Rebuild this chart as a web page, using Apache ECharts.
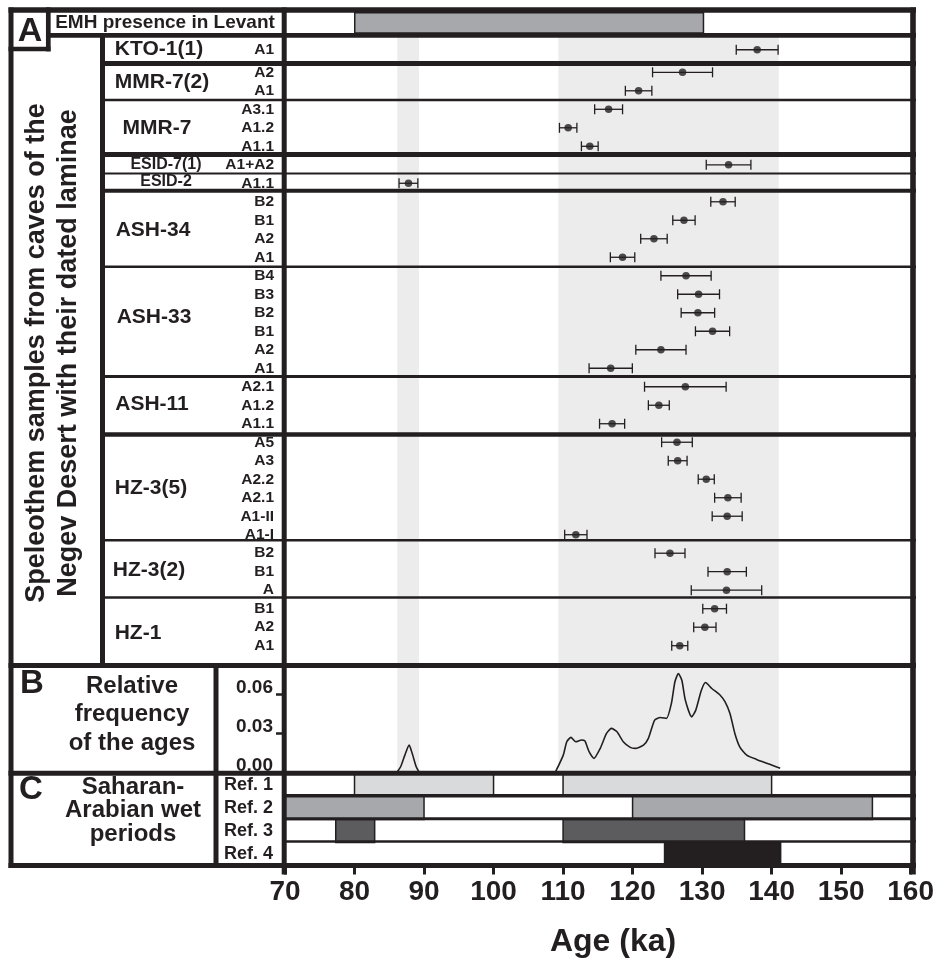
<!DOCTYPE html>
<html><head><meta charset="utf-8">
<script src="https://cdn.jsdelivr.net/npm/echarts@6/dist/echarts.min.js"></script>
<style>html,body{margin:0;padding:0;background:#fff}#c{width:937px;height:959px}</style>
</head><body><div id="c"></div>
<script>
// ================= DATA =================
const groupNames = ['KTO-1(1)','MMR-7(2)','MMR-7','ESID-7(1)','ESID-2','ASH-34','ASH-33','ASH-11','HZ-3(5)','HZ-3(2)','HZ-1'];

const ktoLaminae = ['A1'];
const ktoAges    = [137.7];
const ktoErrors  = [3.0];

const laminaGroups = ['MMR-7(2)','MMR-7(2)','MMR-7','MMR-7','MMR-7','ESID-7(1)','ESID-2',
  'ASH-34','ASH-34','ASH-34','ASH-34',
  'ASH-33','ASH-33','ASH-33','ASH-33','ASH-33','ASH-33',
  'ASH-11','ASH-11','ASH-11',
  'HZ-3(5)','HZ-3(5)','HZ-3(5)','HZ-3(5)','HZ-3(5)','HZ-3(5)',
  'HZ-3(2)','HZ-3(2)','HZ-3(2)',
  'HZ-1','HZ-1','HZ-1'];
const laminaLabels = ['A2','A1','A3.1','A1.2','A1.1','A1+A2','A1.1',
  'B2','B1','A2','A1',
  'B4','B3','B2','B1','A2','A1',
  'A2.1','A1.2','A1.1',
  'A5','A3','A2.2','A2.1','A1-II','A1-I',
  'B2','B1','A',
  'B1','A2','A1'];
const laminaAges = [127.0,120.7,116.4,110.6,113.7,133.6,87.7,
  132.8,127.2,122.9,118.4,
  127.5,129.3,129.2,131.3,123.9,116.7,
  127.4,123.6,116.9,
  126.2,126.3,130.4,133.5,133.4,111.7,
  125.2,133.4,133.3,
  131.6,130.2,126.6];
const laminaErrors = [4.3,1.9,2.0,1.25,1.2,3.2,1.35,
  1.75,1.6,1.9,1.75,
  3.6,3.0,2.4,2.45,3.6,3.1,
  5.85,1.5,1.8,
  2.2,1.35,1.15,1.9,2.15,1.6,
  2.15,2.75,5.05,
  1.7,1.6,1.15];

const emhRange = [80, 130];
const bandRanges = [[86.1, 89.2], [109.2, 140.8]];

// relative frequency of ages (panel B)
const freqPeak1Ages = [86.1, 86.6, 87.2, 87.8, 88.3, 88.8, 89.2];
const freqPeak1Vals = [0.000, 0.004, 0.013, 0.0205, 0.013, 0.004, 0.000];
const freqMainAges = [108.8,109.9,110.4,111.0,111.7,112.5,113.0,113.6,114.3,115.2,116.1,116.8,117.6,118.5,119.5,120.2,121.4,122.1,123.0,123.8,124.7,125.4,125.9,126.4,126.9,127.4,128.3,128.9,129.7,130.3,131.2,132.4,133.1,133.8,134.5,135.2,136.2,137.6,139.5,141.0];
const freqMainVals = [0.000,0.0128,0.0231,0.0265,0.0231,0.0244,0.0238,0.0154,0.0103,0.0180,0.0295,0.0334,0.0308,0.0231,0.0188,0.0180,0.0205,0.0257,0.0398,0.0418,0.0411,0.0526,0.0692,0.0757,0.0705,0.0552,0.0423,0.0475,0.0628,0.0688,0.0642,0.0590,0.0538,0.0449,0.0295,0.0192,0.0128,0.0095,0.0057,0.0026];
const freqTicks = [0, 0.03, 0.06];

const refLabels = ['Ref. 1','Ref. 2','Ref. 3','Ref. 4'];
const refPeriods = [
  [[80,100],[110,140]],
  [[70,90],[120,154.5]],
  [[77.3,82.9],[110,136.1]],
  [[124.6,141.3]]
];
const ageTicks = [70,80,90,100,110,120,130,140,150,160];

// ================= STYLE / LAYOUT =================
const FONT = '"Liberation Sans", Arial, Helvetica, sans-serif';
const INK = '#231f20';
const refColors = ['#d9dadb','#a7a8ab','#5c5c5e','#231f20'];
const PLOT_LEFT = 285, PLOT_RIGHT = 937 - 912.7;

function grid(top, height){ return {left: PLOT_LEFT, right: PLOT_RIGHT, top: top, height: height}; }
const grids = [grid(37,734), grid(12.7,20.3), grid(38,23.5), grid(63.05,591.9), grid(668,103.7), grid(773.3,92.2)];

const hLines = [ // y, x1, x2, width
  [10,8.5,916,5.3],[35.3,46,916,4.7],[49,8.5,50.5,4.7],
  [63.5,100,916,5],[100,100,916,2.5],[154.5,100,916,5],[173.5,100,916,2.2],
  [190.7,100,916,4],[266.7,100,916,2.5],[376.5,100,916,2.8],[434.5,100,916,4.5],
  [540.3,100,916,2.5],[597.5,100,916,2.5],
  [665.5,8.5,916,5],[773.3,8.5,916,5],
  [795.8,284,916,3.5],[818.8,284,916,3],[841.5,284,916,2.5],
  [865.5,8.5,916,5]
];
const vLines = [ // x, y1, y2, width
  [11,7.4,868,5],[48.3,7.4,51.4,4.7],[102.5,33,668,5],[216,663,868,5],
  [284.2,7.4,874.5,5],[913,7.4,874.5,5.6]
];
const groupLabelLayout = { // cx, cy, size
  'KTO-1(1)':[159,49.5,21],'MMR-7(2)':[162,82,21],'MMR-7':[157,128.5,21],
  'ESID-7(1)':[166,165,16],'ESID-2':[166,182,16],'ASH-34':[153,230,21],
  'ASH-33':[154,317,21],'ASH-11':[152,404,21],'HZ-3(5)':[151,488.5,21],
  'HZ-3(2)':[149,570,21],'HZ-1':[138,633,21]
};

function txt(text, x, y, size, extra){
  return Object.assign({type:'text', x:x, y:y, z:100,
    style:{text:text, font:'bold '+size+'px '+FONT, fill:INK, align:'center', verticalAlign:'middle'}}, extra||{});
}

const graphics = [];
hLines.forEach(l => graphics.push({type:'line', z:100, shape:{x1:l[1],y1:l[0],x2:l[2],y2:l[0]}, style:{stroke:INK, lineWidth:l[3]}}));
vLines.forEach(l => graphics.push({type:'line', z:100, shape:{x1:l[0],y1:l[1],x2:l[0],y2:l[2]}, style:{stroke:INK, lineWidth:l[3]}}));
groupNames.forEach(g => { const p = groupLabelLayout[g]; graphics.push(txt(g, p[0], p[1], p[2])); });
graphics.push(txt('A', 30, 32, 34));
graphics.push(txt('EMH presence in Levant', 165, 23, 19));
graphics.push(txt('Speleothem samples from caves of the', 37, 353, 27, {rotation: Math.PI/2}));
graphics.push(txt('Negev Desert with their dated laminae', 69, 353, 27, {rotation: Math.PI/2}));
graphics.push(txt('B', 32, 684, 33));
graphics.push(txt('Relative', 132, 686, 24));
graphics.push(txt('frequency', 132, 714, 24));
graphics.push(txt('of the ages', 132, 743, 24));
graphics.push(txt('C', 31, 790, 33));
graphics.push(txt('Saharan-', 133, 787, 24));
graphics.push(txt('Arabian wet', 133, 810, 24));
graphics.push(txt('periods', 133, 834, 24));
graphics.push(txt('Age (ka)', 613, 942, 32));

// ================= OPTION =================
const labelStyle = (size, margin) => ({color:INK, fontFamily:FONT, fontWeight:'bold', fontSize:size, margin:margin});
const ktoIds = ktoLaminae.map(l => 'KTO-1(1)|' + l);
const laminaIds = laminaLabels.map((l,i) => laminaGroups[i] + '|' + l);

function errRender(params, api){
  const lo = api.coord([api.value(0), api.value(2)]);
  const hi = api.coord([api.value(1), api.value(2)]);
  const c = 5;
  const st = {stroke:INK, lineWidth:1.3};
  return {type:'group', children:[
    {type:'line', shape:{x1:lo[0],y1:lo[1],x2:hi[0],y2:hi[1]}, style:st},
    {type:'line', shape:{x1:lo[0],y1:lo[1]-c,x2:lo[0],y2:lo[1]+c}, style:st},
    {type:'line', shape:{x1:hi[0],y1:hi[1]-c,x2:hi[0],y2:hi[1]+c}, style:st}
  ]};
}
function rectRender(colorFn){
  return function(params, api){
    const s = api.coord([api.value(0), api.value(2)]);
    const e = api.coord([api.value(1), api.value(2)]);
    const h = api.size([0,1])[1];
    return {type:'rect', shape:{x:s[0], y:s[1]-h/2, width:e[0]-s[0], height:h},
      style:{fill:colorFn(api.value(2)), stroke:INK, lineWidth:1.5}};
  };
}

const xAxes = [0,1,2,3,4].map(i => ({type:'value', gridIndex:i, min:70, max:160, show:false}));
xAxes.push({type:'value', gridIndex:5, min:70, max:160, interval:10,
  axisLine:{show:false}, splitLine:{show:false},
  axisTick:{show:true, inside:false, length:9, customValues:ageTicks, lineStyle:{color:INK, width:3}},
  axisLabel:Object.assign(labelStyle(28, 13), {customValues:ageTicks})});

const catY = (i, data, size, margin) => ({type:'category', gridIndex:i, data:data, inverse:true,
  axisLine:{show:false}, axisTick:{show:false}, splitLine:{show:false},
  axisLabel:Object.assign(labelStyle(size, margin), {interval:0, formatter: v => v.indexOf('|')>=0 ? v.split('|')[1] : v})});

const yAxes = [
  {type:'value', gridIndex:0, min:0, max:1, show:false},
  {type:'category', gridIndex:1, data:['EMH'], show:false},
  catY(2, ktoIds, 15.5, 11),
  catY(3, laminaIds, 15.5, 11),
  {type:'value', gridIndex:4, min:0, max:0.08, axisLine:{show:false}, splitLine:{show:false},
    axisTick:{show:true, inside:false, length:9, customValues:[0.03,0.06], lineStyle:{color:INK, width:2.5}},
    axisLabel:Object.assign(labelStyle(19, 12), {customValues:freqTicks, formatter: v => Number(v).toFixed(2), verticalAlign:'bottom', lineHeight:12})},
  catY(5, refLabels, 18, 12)
];

const series = [
  {type:'line', xAxisIndex:0, yAxisIndex:0, data:[[70,0]], showSymbol:false, lineStyle:{width:0}, z:0, silent:true,
    markArea:{silent:true, itemStyle:{color:'#ececec'}, data: bandRanges.map(r => [{xAxis:r[0]},{xAxis:r[1]}])}},
  {type:'custom', xAxisIndex:1, yAxisIndex:1, renderItem: rectRender(() => '#a7a8ab'),
    encode:{x:[0,1], y:2}, data:[[emhRange[0], emhRange[1], 0]]},
  {type:'custom', xAxisIndex:2, yAxisIndex:2, renderItem: errRender, encode:{x:[0,1], y:2},
    data: ktoAges.map((a,i) => [a-ktoErrors[i], a+ktoErrors[i], i])},
  {type:'scatter', xAxisIndex:2, yAxisIndex:2, symbolSize:7.5, itemStyle:{color:INK}, z:3,
    data: ktoAges.map((a,i) => [a, i])},
  {type:'custom', xAxisIndex:3, yAxisIndex:3, renderItem: errRender, encode:{x:[0,1], y:2},
    data: laminaAges.map((a,i) => [a-laminaErrors[i], a+laminaErrors[i], i])},
  {type:'scatter', xAxisIndex:3, yAxisIndex:3, symbolSize:7.5, itemStyle:{color:INK}, z:3,
    data: laminaAges.map((a,i) => [a, i])},
  {type:'line', xAxisIndex:4, yAxisIndex:4, showSymbol:false, smooth:0.2, lineStyle:{color:INK, width:1.6},
    data: freqPeak1Ages.map((a,i) => [a, freqPeak1Vals[i]])},
  {type:'line', xAxisIndex:4, yAxisIndex:4, showSymbol:false, smooth:0.2, lineStyle:{color:INK, width:1.6},
    data: freqMainAges.map((a,i) => [a, freqMainVals[i]])},
  {type:'custom', xAxisIndex:5, yAxisIndex:5, renderItem: rectRender(k => refColors[k]), encode:{x:[0,1], y:2},
    data: refPeriods.flatMap((ps,k) => ps.map(p => [p[0], p[1], k]))}
];

const chart = echarts.init(document.getElementById('c'), null, {renderer:'canvas'});
chart.setOption({
  animation:false,
  backgroundColor:'#ffffff',
  grid: grids,
  xAxis: xAxes,
  yAxis: yAxes,
  series: series,
  graphic: {elements: graphics}
});
</script>
</body></html>
